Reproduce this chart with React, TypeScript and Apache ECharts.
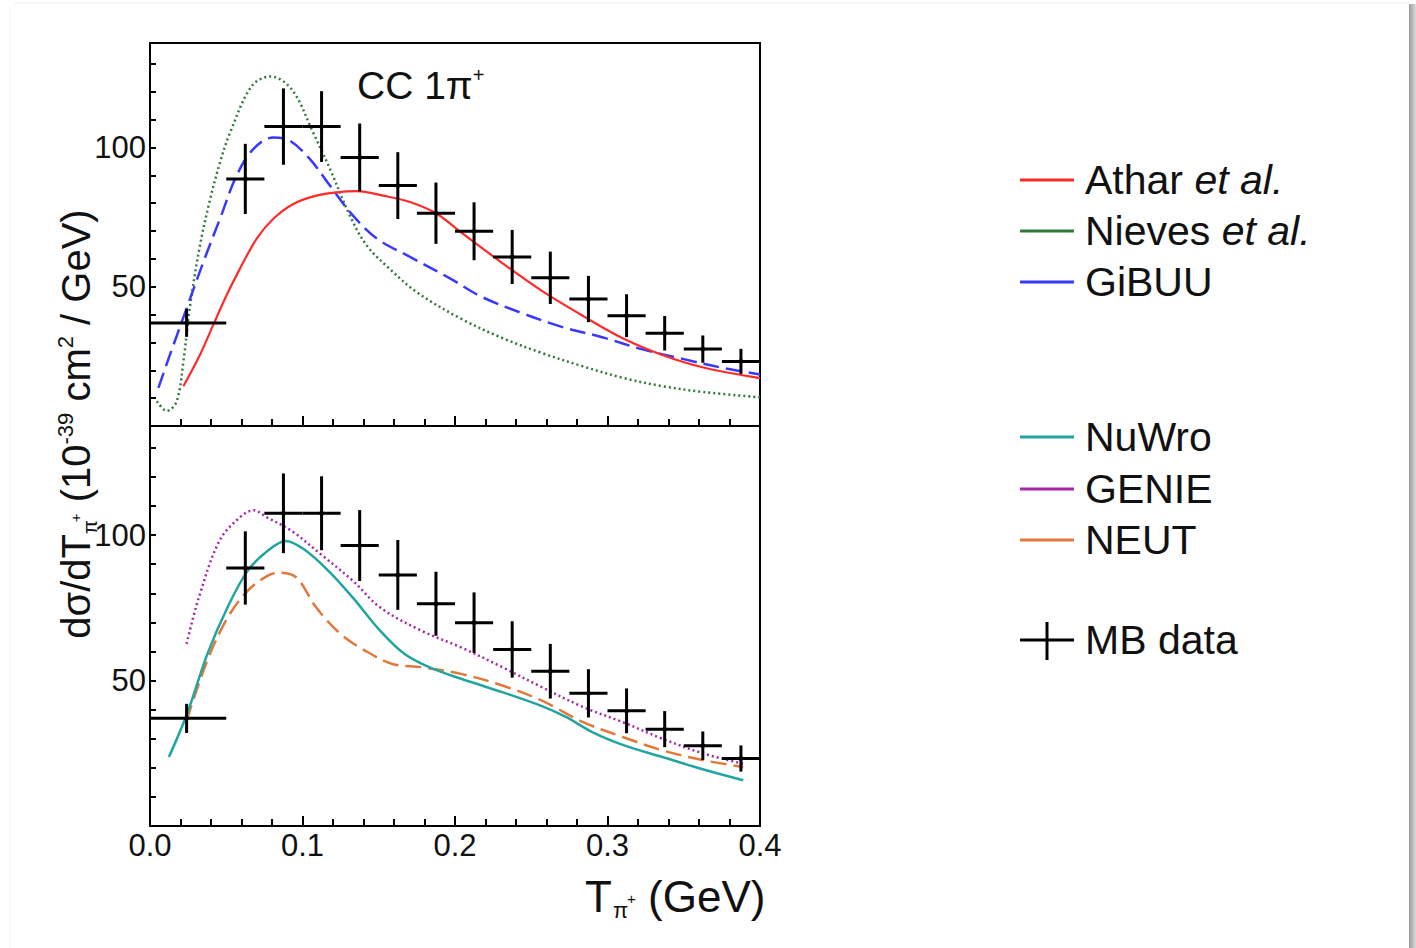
import React, { useEffect, useRef } from "react";
import * as echarts from "echarts";

// ---------- data ----------
const binLo = [0.0, 0.05, 0.075, 0.1, 0.125, 0.15, 0.175, 0.2, 0.225, 0.25, 0.275, 0.3, 0.325, 0.35, 0.375];
const binHi = [0.05, 0.075, 0.1, 0.125, 0.15, 0.175, 0.2, 0.225, 0.25, 0.275, 0.3, 0.325, 0.35, 0.375, 0.4];
const binX = [0.024, 0.0625, 0.0875, 0.1125, 0.1375, 0.1625, 0.1875, 0.2125, 0.2375, 0.2625, 0.2875, 0.3125, 0.3375, 0.3625, 0.3875];
const mbData = [37, 88.7, 107.5, 107.5, 96.4, 86.3, 76.4, 69.9, 60.7, 53.2, 45.6, 39.6, 33.3, 27.6, 23.2];
const mbErr = [5, 12.6, 13.7, 12.7, 12.2, 12, 11, 10.4, 9.7, 9.4, 8.3, 7.7, 6.2, 4.9, 4.5];

const atharX = [0.0219, 0.0328, 0.0415, 0.0503, 0.059, 0.070, 0.0809, 0.094, 0.109, 0.1224, 0.1355, 0.153, 0.1705, 0.188, 0.204, 0.231, 0.257, 0.284, 0.310, 0.336, 0.363, 0.400];
const atharY = [14.3, 25.6, 36.3, 47.0, 56.5, 67.3, 74.4, 79.7, 82.7, 83.9, 84.3, 82.7, 80.4, 76.2, 69.5, 58.5, 48.5, 39.5, 31.5, 25.5, 21.0, 17.2];

const nievesX = [0.0045, 0.011, 0.0175, 0.0219, 0.026, 0.0328, 0.039, 0.0459, 0.0525, 0.0667, 0.079, 0.093, 0.107, 0.118, 0.131, 0.142, 0.157, 0.175, 0.204, 0.231, 0.257, 0.284, 0.310, 0.336, 0.363, 0.400];
const nievesY = [8.9, 5.4, 8.9, 23.2, 42.2, 64.9, 80.4, 94.6, 105.3, 122.0, 125.5, 120.8, 105.3, 92.3, 75.6, 64.9, 56.5, 48.0, 38.5, 31.6, 26.2, 21.4, 17.3, 14.3, 12.2, 10.3];

const gibuuX = [0.0055, 0.0131, 0.024, 0.035, 0.0459, 0.0568, 0.0677, 0.0809, 0.0918, 0.1049, 0.118, 0.133, 0.1487, 0.1705, 0.1967, 0.217, 0.244, 0.270, 0.297, 0.323, 0.350, 0.376, 0.400];
const gibuuY = [13.7, 25.6, 42.2, 58.9, 74.4, 89.9, 99.4, 103.6, 102.4, 95.8, 86.3, 75.6, 67.3, 60.7, 53.0, 46.5, 40.5, 35.6, 31.8, 27.5, 24.0, 20.8, 18.5];

const nuwroX = [0.0124, 0.0243, 0.0376, 0.0508, 0.064, 0.077, 0.089, 0.101, 0.117, 0.133, 0.151, 0.167, 0.183, 0.204, 0.231, 0.257, 0.273, 0.291, 0.310, 0.336, 0.363, 0.389];
const nuwroY = [23.7, 38.6, 59.1, 75.1, 87.7, 94.5, 98.0, 95.1, 87.7, 78.5, 67.1, 59.1, 54.6, 50.6, 46.0, 41.2, 37.4, 32.0, 27.9, 23.7, 19.4, 15.7];

const neutX = [0.024, 0.0376, 0.051, 0.064, 0.077, 0.085, 0.096, 0.109, 0.125, 0.141, 0.159, 0.178, 0.204, 0.231, 0.257, 0.284, 0.310, 0.336, 0.363, 0.389];
const neutY = [36.3, 56.9, 71.7, 80.8, 86.0, 87.1, 85.4, 75.1, 66.0, 60.3, 55.7, 54.6, 52.3, 48.3, 43.1, 35.7, 30.6, 26.0, 22.6, 20.3];

const genieX = [0.024, 0.032, 0.0455, 0.0587, 0.068, 0.077, 0.093, 0.112, 0.133, 0.151, 0.178, 0.204, 0.231, 0.257, 0.284, 0.310, 0.336, 0.363, 0.389];
const genieY = [62.6, 78.5, 98.0, 106.0, 108.5, 106.0, 101.4, 93.4, 84.3, 75.1, 67.1, 61.4, 54.6, 47.7, 40.9, 35.7, 30.0, 24.9, 21.4];

const xTickLabels = ["0.0", "0.1", "0.2", "0.3", "0.4"];
const yTickLabels = [50, 100];

// ---------- styles ----------
const FONT = "'Liberation Sans', Arial, Helvetica, sans-serif";
const INK = "#111";
const C = {
  athar: "#ff2a2a",
  nieves: "#2f7a3a",
  gibuu: "#3838ff",
  nuwro: "#22a5a0",
  genie: "#a526a8",
  neut: "#e0793a",
};

const zip = (xs: number[], ys: number[]) => xs.map((x, i) => [x, ys[i]]);

let _ctx: CanvasRenderingContext2D | null = null;
function measure(t: string, size: number, italic = false) {
  if (!_ctx) _ctx = document.createElement("canvas").getContext("2d");
  if (!_ctx) return t.length * size * 0.55;
  _ctx.font = `${italic ? "italic " : ""}${size}px ${FONT}`;
  return _ctx.measureText(t).width;
}

type Seg = { t: string; s: number; dy?: number; it?: boolean; dx?: number };
// lays out text segments on a common baseline (y=0); returns children & width
function layoutSegs(segs: Seg[]) {
  let x = 0;
  const children: any[] = [];
  segs.forEach((g) => {
    x += g.dx ?? 0;
    children.push({
      type: "text",
      x,
      y: (g.dy ?? 0) - 0.34 * g.s,
      style: {
        text: g.t,
        font: `${g.it ? "italic " : ""}${g.s}px ${FONT}`,
        fill: INK,
        align: "left",
        verticalAlign: "middle",
      },
    });
    x += measure(g.t, g.s, g.it);
  });
  return { children, width: x };
}

function textGroup(segs: Seg[], x: number, baseline: number, opts: { center?: boolean; rotation?: number } = {}) {
  const { children, width } = layoutSegs(segs);
  if (opts.center) children.forEach((c) => (c.x -= width / 2));
  return { type: "group", x, y: baseline, rotation: opts.rotation ?? 0, children };
}

function lineSeries(name: string, xs: number[], ys: number[], color: string, type: any, width: number, gi: number) {
  return {
    name,
    type: "line",
    xAxisIndex: gi,
    yAxisIndex: gi,
    data: zip(xs, ys),
    smooth: 0.35,
    showSymbol: false,
    symbol: "none",
    clip: true,
    lineStyle: { color, width, type },
    z: 3,
  };
}

function errSeries(gi: number) {
  const data = binX.map((x, i) => [binLo[i], binHi[i], x, mbData[i], mbData[i] - mbErr[i], mbData[i] + mbErr[i]]);
  return {
    type: "custom",
    xAxisIndex: gi,
    yAxisIndex: gi,
    data,
    encode: { x: [0, 1, 2], y: [3, 4, 5] },
    z: 5,
    renderItem: (params: any, api: any) => {
      const lo = api.coord([api.value(0), api.value(3)]);
      const hi = api.coord([api.value(1), api.value(3)]);
      const c = api.coord([api.value(2), api.value(3)]);
      const yl = api.coord([api.value(2), api.value(4)]);
      const yh = api.coord([api.value(2), api.value(5)]);
      const st = { stroke: "#000", lineWidth: 3 };
      return {
        type: "group",
        children: [
          { type: "line", shape: { x1: lo[0], y1: lo[1], x2: hi[0], y2: hi[1] }, style: st },
          { type: "line", shape: { x1: c[0], y1: yl[1], x2: c[0], y2: yh[1] }, style: st },
          { type: "circle", shape: { cx: c[0], cy: c[1], r: 2.5 }, style: { fill: "#000" } },
        ],
      };
    },
  };
}

function xAxis(gi: number, labels: boolean) {
  return {
    type: "value",
    gridIndex: gi,
    min: 0,
    max: 0.4,
    interval: 0.1,
    axisLine: { show: true, lineStyle: { color: "#000", width: 2 } },
    axisTick: { show: true, inside: true, length: 10, lineStyle: { color: "#000", width: 2 } },
    minorTick: { show: true, splitNumber: 5, length: 7, lineStyle: { color: "#000", width: 2 } },
    splitLine: { show: false },
    axisLabel: {
      show: labels,
      color: INK,
      fontFamily: FONT,
      fontSize: 31,
      margin: 4,
      formatter: (v: number) => xTickLabels[Math.round(v * 10)] ?? "",
    },
  };
}

function yAxis(gi: number) {
  return {
    type: "value",
    gridIndex: gi,
    min: 0,
    max: 137.5,
    interval: 10,
    axisLine: { show: true, lineStyle: { color: "#000", width: 2 } },
    axisTick: { show: true, inside: true, length: 6, lineStyle: { color: "#000", width: 2 } },
    splitLine: { show: false },
    axisLabel: {
      color: INK,
      fontFamily: FONT,
      fontSize: 31,
      margin: 4,
      showMaxLabel: false,
      formatter: (v: number) => (yTickLabels.includes(v) ? String(v) : ""),
    },
  };
}

function legendGraphics() {
  const rows: any[] = [];
  const LS = 41;
  const items: { y: number; color: string; segs: Seg[] }[] = [
    { y: 180, color: C.athar, segs: [{ t: "Athar ", s: LS }, { t: "et al.", s: LS, it: true }] },
    { y: 231, color: C.nieves, segs: [{ t: "Nieves ", s: LS }, { t: "et al.", s: LS, it: true }] },
    { y: 282, color: C.gibuu, segs: [{ t: "GiBUU", s: LS }] },
    { y: 437, color: C.nuwro, segs: [{ t: "NuWro", s: LS }] },
    { y: 489, color: C.genie, segs: [{ t: "GENIE", s: LS }] },
    { y: 540, color: C.neut, segs: [{ t: "NEUT", s: LS }] },
  ];
  items.forEach((it) => {
    rows.push({
      type: "line",
      shape: { x1: 1020, y1: it.y, x2: 1074, y2: it.y },
      style: { stroke: it.color, lineWidth: 3 },
    });
    rows.push(textGroup(it.segs, 1085, it.y + 0.33 * LS));
  });
  rows.push({ type: "line", shape: { x1: 1020, y1: 640, x2: 1074, y2: 640 }, style: { stroke: "#000", lineWidth: 3 } });
  rows.push({ type: "line", shape: { x1: 1047, y1: 622, x2: 1047, y2: 660 }, style: { stroke: "#000", lineWidth: 3 } });
  rows.push(textGroup([{ t: "MB data", s: LS }], 1085, 640 + 0.33 * LS));
  return rows;
}

export default function App() {
  const ref = useRef<HTMLDivElement>(null);
  useEffect(() => {
    if (!ref.current) return;
    const chart = echarts.init(ref.current, null, { renderer: "svg" });
    const YS = 40;
    const option: any = {
      animation: false,
      backgroundColor: "#fff",
      grid: [
        { left: 150, top: 43, width: 610, height: 383, show: true, borderColor: "#000", borderWidth: 2, backgroundColor: "transparent" },
        { left: 150, top: 426, width: 610, height: 400, show: true, borderColor: "#000", borderWidth: 2, backgroundColor: "transparent" },
      ],
      xAxis: [xAxis(0, false), xAxis(1, true)],
      yAxis: [yAxis(0), yAxis(1)],
      series: [
        lineSeries("Nieves et al.", nievesX, nievesY, C.nieves, [2, 3], 2.5, 0),
        lineSeries("GiBUU", gibuuX, gibuuY, C.gibuu, [16, 7], 2.5, 0),
        lineSeries("Athar et al.", atharX, atharY, C.athar, "solid", 2.2, 0),
        errSeries(0),
        lineSeries("GENIE", genieX, genieY, C.genie, [2, 3], 2.5, 1),
        lineSeries("NEUT", neutX, neutY, C.neut, [16, 7], 2.5, 1),
        lineSeries("NuWro", nuwroX, nuwroY, C.nuwro, "solid", 2.5, 1),
        errSeries(1),
      ],
      graphic: [
        // page border & shadow
        { type: "rect", shape: { x: 1409, y: 4, width: 7, height: 944 }, style: { fill: new echarts.graphic.LinearGradient(0, 0, 1, 0, [{ offset: 0, color: "#9a9a9a" }, { offset: 1, color: "#dcdcdc" }]) }, silent: true },
        { type: "line", shape: { x1: 14, y1: 3, x2: 1409, y2: 3 }, style: { stroke: "#f0f0f0", lineWidth: 1 } },
        { type: "line", shape: { x1: 10, y1: 8, x2: 10, y2: 948 }, style: { stroke: "#f3f3f3", lineWidth: 1 } },
        // title in top panel
        textGroup([{ t: "CC 1π", s: 39 }, { t: "+", s: 20, dy: -17 }], 357, 99),
        // x axis title
        textGroup(
          [
            { t: "T", s: 44 },
            { t: "π", s: 22, dy: 7, dx: 1 },
            { t: "+", s: 15, dy: -7, dx: -1 },
            { t: " (GeV)", s: 44 },
          ],
          585,
          911
        ),
        // y axis title (reads bottom-to-top)
        textGroup(
          [
            { t: "dσ/dT", s: YS },
            { t: "π", s: 20, dy: 7 },
            { t: "+", s: 15, dy: -9, dx: -2 },
            { t: " (10", s: YS },
            { t: "-39", s: 22, dy: -17 },
            { t: " cm", s: YS },
            { t: "2", s: 22, dy: -17 },
            { t: " / GeV)", s: YS },
          ],
          90,
          424,
          { center: true, rotation: Math.PI / 2 }
        ),
        ...legendGraphics(),
      ],
    };
    chart.setOption(option);
    return () => chart.dispose();
  }, []);
  return <div ref={ref} style={{ position: "absolute", left: 0, top: 0, width: 1416, height: 948 }} />;
}
